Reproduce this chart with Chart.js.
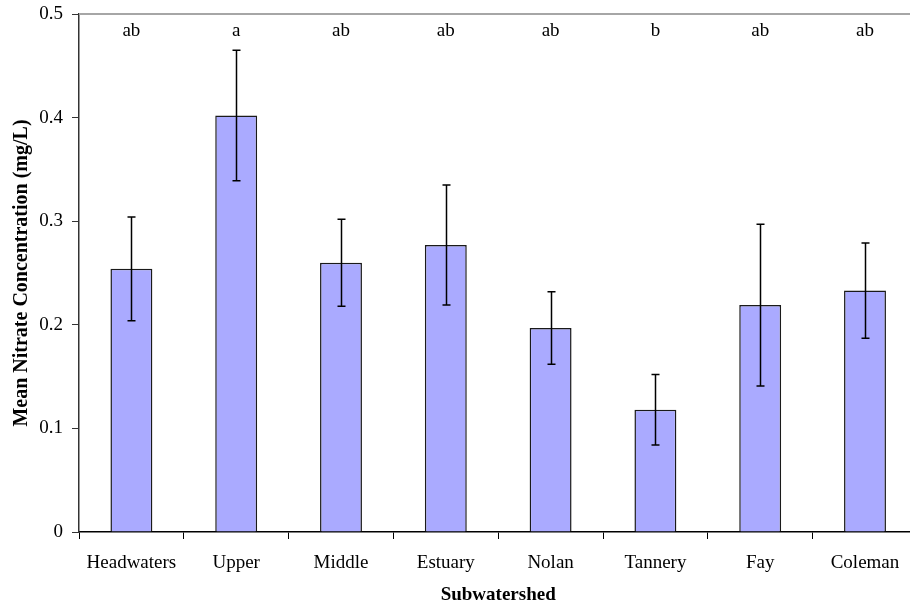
<!DOCTYPE html>
<html>
<head>
<meta charset="utf-8">
<script src="https://cdn.jsdelivr.net/npm/chart.js@4.4.1/dist/chart.umd.min.js"></script>
<style>
  html, body { margin: 0; padding: 0; overflow: hidden; background: #fff; }
  #wrap { width: 930px; height: 606px; }
</style>
</head>
<body>
<div id="wrap"><canvas id="chart" width="930" height="606"></canvas></div>
<script>
// Mean nitrate concentration by subwatershed, with standard error and group letters
const subwatersheds = ['Headwaters', 'Upper', 'Middle', 'Estuary', 'Nolan', 'Tannery', 'Fay', 'Coleman'];
const meanNitrate   = [0.254, 0.402, 0.260, 0.277, 0.197, 0.118, 0.219, 0.233];
const stdError      = [0.050, 0.063, 0.042, 0.058, 0.035, 0.034, 0.078, 0.046];
const groupLetters  = ['ab', 'a', 'ab', 'ab', 'ab', 'b', 'ab', 'ab'];
const yTickValues   = [0, 0.1, 0.2, 0.3, 0.4, 0.5];

const SERIF = '"Liberation Serif", "Times New Roman", serif';

// Error bars, group letters and the upper frame line
const overlay = {
  id: 'overlay',
  afterDatasetsDraw(chart) {
    const { ctx, chartArea: a, scales: { x, y } } = chart;
    ctx.save();

    ctx.strokeStyle = '#a6a6a6';
    ctx.lineWidth = 2;
    ctx.beginPath();
    ctx.moveTo(a.left, a.top);
    ctx.lineTo(a.right, a.top);
    ctx.stroke();

    ctx.strokeStyle = '#000';
    ctx.lineWidth = 1.5;
    meanNitrate.forEach((m, i) => {
      const cx = Math.round(x.getPixelForValue(i)) + 0.5;
      const hi = y.getPixelForValue(m + stdError[i]);
      const lo = y.getPixelForValue(m - stdError[i]);
      ctx.beginPath();
      ctx.moveTo(cx, hi); ctx.lineTo(cx, lo);
      ctx.moveTo(cx - 4, hi); ctx.lineTo(cx + 4, hi);
      ctx.moveTo(cx - 4, lo); ctx.lineTo(cx + 4, lo);
      ctx.stroke();
    });

    ctx.fillStyle = '#000';
    ctx.font = '19px ' + SERIF;
    ctx.textAlign = 'center';
    ctx.textBaseline = 'middle';
    groupLetters.forEach((t, i) => {
      ctx.fillText(t, x.getPixelForValue(i), a.top + 17);
    });
    ctx.restore();
  }
};

new Chart(document.getElementById('chart'), {
  type: 'bar',
  data: {
    labels: subwatersheds,
    datasets: [{
      data: meanNitrate,
      backgroundColor: '#aaaaff',
      borderColor: '#1a1a1a',
      borderWidth: 1.5,
      barPercentage: 0.4,
      categoryPercentage: 1.0
    }]
  },
  options: {
    responsive: false,
    animation: false,
    layout: { padding: { top: 14, right: 12.6, left: 0, bottom: 0 } },
    plugins: { legend: { display: false }, tooltip: { enabled: false } },
    scales: {
      x: {
        offset: true,
        grid: { display: true, drawOnChartArea: false, drawTicks: true, tickLength: 7, color: '#000', offset: true },
        border: { color: '#000', width: 1.5 },
        ticks: { color: '#000', font: { family: SERIF, size: 19 }, padding: 13, maxRotation: 0 },
        title: {
          display: true, text: 'Subwatershed', color: '#000',
          font: { family: SERIF, size: 19, weight: 'bold' },
          padding: { top: 4, bottom: 0 }
        },
        afterFit(s) { s.height = 74; s.paddingLeft = 0; s.paddingRight = 0; }
      },
      y: {
        min: 0, max: 0.5,
        afterBuildTicks(s) { s.ticks = yTickValues.map(v => ({ value: v })); },
        grid: { display: true, drawOnChartArea: false, drawTicks: true, tickLength: 7, color: '#333' },
        border: { color: '#333', width: 1.5 },
        ticks: {
          color: '#000', font: { family: SERIF, size: 19 }, padding: 9,
          callback: v => (v === 0 ? '0' : v.toFixed(1))
        },
        title: {
          display: true, text: 'Mean Nitrate Concentration (mg/L)', color: '#000',
          font: { family: SERIF, size: 20, weight: 'bold' },
          padding: { top: 10, bottom: 0 }
        },
        afterFit(s) { s.width = 79; s.paddingTop = 0; s.paddingBottom = 0; }
      }
    }
  },
  plugins: [overlay]
});
</script>
</body>
</html>
